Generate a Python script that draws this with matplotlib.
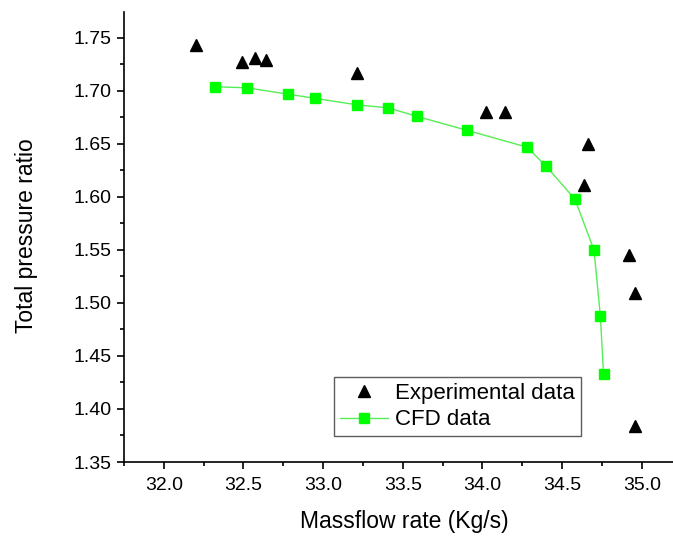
import matplotlib.pyplot as plt
import numpy as np

plt.rcParams['font.family'] = ['Liberation Sans', 'DejaVu Sans']

# experimental measurements
exp_mass = [32.20, 32.49, 32.57, 32.64, 33.21, 34.02, 34.14, 34.66, 34.64, 34.92, 34.96, 34.96]
exp_pr = [1.743, 1.727, 1.731, 1.729, 1.717, 1.680, 1.680, 1.650, 1.611, 1.545, 1.509, 1.384]

# CFD speedline
cfd_mass = [32.32, 32.52, 32.78, 32.95, 33.21, 33.41, 33.59, 33.90, 34.28, 34.40,
            34.58, 34.70, 34.74, 34.76]
cfd_pr = [1.704, 1.703, 1.697, 1.693, 1.687, 1.684, 1.676, 1.663, 1.647, 1.629,
          1.598, 1.550, 1.488, 1.433]

fig = plt.figure(figsize=(6.73, 5.37), dpi=100)
ax = fig.add_axes([124/673, 75/537, 1 - 124/673, 450/537])

ax.plot(exp_mass, exp_pr, ls='none', marker='^', ms=9, color='black',
        label='Experimental data')
ax.plot(cfd_mass, cfd_pr, color='#55ee55', lw=1.0, marker='s', ms=7.5,
        mfc='#00ff00', mec='#00ff00', label='CFD data')

ax.set_xlim(31.75, 35.196)
ax.set_ylim(1.35, 1.7745)
ax.set_xticks(np.arange(32.0, 35.01, 0.5))
ax.set_xticks(np.arange(31.75, 35.2, 0.25), minor=True)
ax.set_yticks(np.arange(1.35, 1.751, 0.05))
ax.set_yticks(np.arange(1.375, 1.77, 0.025), minor=True)
ax.xaxis.set_major_formatter(plt.FormatStrFormatter('%.1f'))
ax.yaxis.set_major_formatter(plt.FormatStrFormatter('%.2f'))

for side in ['top', 'right']:
    ax.spines[side].set_visible(False)
for side in ['left', 'bottom']:
    ax.spines[side].set_linewidth(1.2)
ax.tick_params(which='major', direction='out', length=5, width=1.2, labelsize=14)
ax.tick_params(axis='y', which='major', pad=4)
ax.tick_params(axis='x', which='major', pad=6)
ax.tick_params(which='minor', direction='out', length=3, width=1.2)

ax.set_xlabel('Massflow rate (Kg/s)', fontsize=16.5)
ax.set_ylabel('Total pressure ratio', fontsize=16.5)
ax.xaxis.set_label_coords(0.51, -0.106)
ax.yaxis.set_label_coords(-0.157, 0.504)

leg = ax.legend(loc='lower left', bbox_to_anchor=(334/673, 101/537),
                bbox_transform=fig.transFigure, fontsize=16, frameon=True,
                fancybox=False, borderaxespad=0, handlelength=2.2,
                handletextpad=0.3, borderpad=0.25, labelspacing=0.25)
leg.get_frame().set_edgecolor('#333333')
leg.get_frame().set_linewidth(1.0)

fig.savefig('out.png', dpi=100)
